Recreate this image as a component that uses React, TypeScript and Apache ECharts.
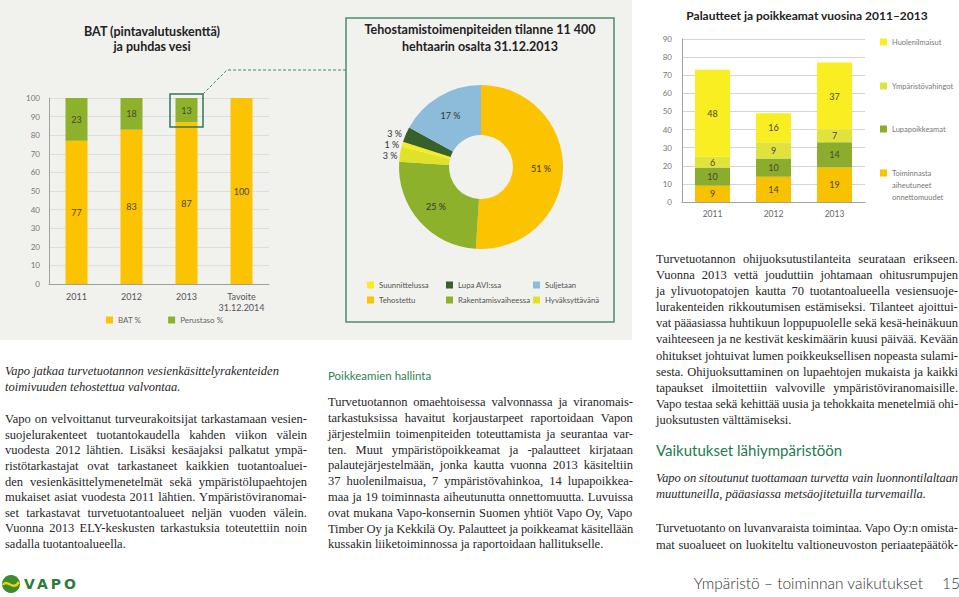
import React, { useEffect, useRef } from "react";
import * as echarts from "echarts";

// ---------- DATA ----------
const batCategories = ["2011", "2012", "2013", "Tavoite\n31.12.2014"];
const batValues = [77, 83, 87, 100];
const perustasoValues: (number | null)[] = [23, 18, 13, null];

const pieNames = ["Tehostettu", "Rakentamisvaiheessa", "Hyväksyttävänä", "Suunnittelussa", "Lupa AVI:ssa", "Suljetaan"];
const pieValues = [51, 25, 3, 1, 3, 17];
const pieColors = ["#fbc300", "#8db12b", "#dfe229", "#f7ec22", "#37602b", "#8dbcdb"];

const fbYears = ["2011", "2012", "2013"];
const accidents = [9, 14, 19];
const permitDeviations = [10, 10, 14];
const envDamages = [6, 9, 7];
const concerns = [48, 16, 37];

const leftItalic = [
  "Vapo jatkaa turvetuotannon vesienkäsittelyrakenteiden",
  "toimivuuden tehostettua valvontaa.",
];
const leftBody = [
  "Vapo on velvoittanut turveurakoitsijat tarkastamaan vesien-",
  "suojelurakenteet tuotantokaudella kahden viikon välein",
  "vuodesta 2012 lähtien. Lisäksi kesäajaksi palkatut ympä-",
  "ristötarkastajat ovat tarkastaneet kaikkien tuotantoaluei-",
  "den vesienkäsittelymenetelmät sekä ympäristölupaehtojen",
  "mukaiset asiat vuodesta 2011 lähtien. Ympäristöviranomai-",
  "set tarkastavat turvetuotantoalueet neljän vuoden välein.",
  "Vuonna 2013 ELY-keskusten tarkastuksia toteutettiin noin",
  "sadalla tuotantoalueella.",
];
const midBody = [
  "Turvetuotannon omaehtoisessa valvonnassa ja viranomais-",
  "tarkastuksissa havaitut korjaustarpeet raportoidaan Vapon",
  "järjestelmiin toimenpiteiden toteuttamista ja seurantaa var-",
  "ten. Muut ympäristöpoikkeamat ja -palautteet kirjataan",
  "palautejärjestelmään, jonka kautta vuonna 2013 käsiteltiin",
  "37 huolenilmaisua, 7 ympäristövahinkoa, 14 lupapoikkea-",
  "maa ja 19 toiminnasta aiheutunutta onnettomuutta. Luvuissa",
  "ovat mukana Vapo-konsernin Suomen yhtiöt Vapo Oy, Vapo",
  "Timber Oy ja Kekkilä Oy. Palautteet ja poikkeamat käsitellään",
  "kussakin liiketoiminnossa ja raportoidaan hallitukselle.",
];
const rightBody = [
  "Turvetuotannon ohijuoksutustilanteita seurataan erikseen.",
  "Vuonna 2013 vettä jouduttiin johtamaan ohitusrumpujen",
  "ja ylivuotopatojen kautta 70 tuotantoalueella vesiensuoje-",
  "lurakenteiden rikkoutumisen estämiseksi. Tilanteet ajoittui-",
  "vat pääasiassa huhtikuun loppupuolelle sekä kesä-heinäkuun",
  "vaihteeseen ja ne kestivät keskimäärin kuusi päivää. Kevään",
  "ohitukset johtuivat lumen poikkeuksellisen nopeasta sulami-",
  "sesta. Ohijuoksuttaminen on lupaehtojen mukaista ja kaikki",
  "tapaukset ilmoitettiin valvoville ympäristöviranomaisille.",
  "Vapo testaa sekä kehittää uusia ja tehokkaita menetelmiä ohi-",
  "juoksutusten välttämiseksi.",
];
const rightItalic = [
  "Vapo on sitoutunut tuottamaan turvetta vain luonnontilaltaan",
  "muuttuneilla, pääasiassa metsäojitetuilla turvemailla.",
];
const rightBody2 = [
  "Turvetuotanto on luvanvaraista toimintaa. Vapo Oy:n omista-",
  "mat suoalueet on luokiteltu valtioneuvoston periaatepäätök-",
];

// ---------- helpers ----------
const FONT = "Lato";
const SERIF = '"Liberation Serif"';
const BODY_SIZE = 12.5;
let measureCtx: CanvasRenderingContext2D | null = null;
function textWidth(text: string, font: string) {
  if (!measureCtx) measureCtx = document.createElement("canvas").getContext("2d");
  measureCtx!.font = font;
  return measureCtx!.measureText(text).width;
}

function Para(props: { lines: string[]; x: number; y: number; width: number; lh: number; italic?: boolean; justify?: boolean; justifyLast?: boolean }) {
  const { lines, x, y, width, lh, italic, justify = true, justifyLast } = props;
  const font = `${italic ? "italic " : ""}${BODY_SIZE}px ${SERIF}`;
  return (
    <>
      {lines.map((t, i) => {
        const isLast = i === lines.length - 1;
        const doJ = justify && (!isLast || justifyLast);
        const spaces = t.split(" ").length - 1;
        const w = textWidth(t, font);
        let ws = 0;
        let ls = 0;
        if (w > width) {
          ls = (width - w) / t.length;
        } else if (doJ && spaces > 0) {
          ws = (width - w) / spaces;
        }
        return (
          <div
            key={i}
            style={{
              position: "absolute",
              left: x,
              top: y + i * lh - lh / 2,
              height: lh,
              lineHeight: lh + "px",
              whiteSpace: "nowrap",
              font,
              wordSpacing: ws + "px",
              letterSpacing: ls + "px",
              color: "#262626",
            }}
          >
            {t}
          </div>
        );
      })}
    </>
  );
}

export default function App() {
  const ref = useRef<HTMLDivElement>(null);

  useEffect(() => {
    if (!ref.current) return;
    const chart = echarts.init(ref.current, undefined, { renderer: "svg" });
    const labelColor = "#4a4636";
    const legendText = { fontFamily: FONT, fontSize: 7.8, color: "#555" };
    const rLegendText = { fontFamily: FONT, fontSize: 7.5, color: "#777" };
    const legendBase = { icon: "rect", itemWidth: 7, itemHeight: 7, orient: "vertical", selectedMode: false, textStyle: legendText, padding: 0 };

    const option: any = {
      animation: false,
      textStyle: { fontFamily: FONT },
      grid: [
        { left: 49, top: 98, width: 220, height: 186 },
        { left: 682, top: 39, width: 183, height: 163 },
      ],
      xAxis: [
        {
          type: "category", gridIndex: 0, data: batCategories,
          axisLine: { lineStyle: { color: "#a0a0a0" } }, axisTick: { show: false },
          axisLabel: { color: "#555", fontSize: 9, margin: 7, lineHeight: 11, interval: 0 },
        },
        {
          type: "category", gridIndex: 1, data: fbYears,
          axisLine: { lineStyle: { color: "#a0a0a0" } }, axisTick: { show: false },
          axisLabel: { color: "#666", fontSize: 8.5, margin: 7 },
        },
      ],
      yAxis: [
        {
          type: "value", gridIndex: 0, min: 0, max: 100, interval: 10,
          axisLine: { show: true, lineStyle: { color: "#a0a0a0" } }, axisTick: { show: false },
          axisLabel: { color: "#777", fontSize: 8, margin: 9 },
          splitLine: { lineStyle: { color: "#dedede" } },
        },
        {
          type: "value", gridIndex: 1, min: 0, max: 90, interval: 10,
          axisLine: { show: true, lineStyle: { color: "#a0a0a0" } }, axisTick: { show: false },
          axisLabel: { color: "#777", fontSize: 8, margin: 10 },
          splitLine: { lineStyle: { color: "#d4d4d4" } },
        },
      ],
      legend: [
        { ...legendBase, orient: "horizontal", data: ["BAT %", "Perustaso %"], left: 106, top: 316, itemGap: 27, textStyle: { ...legendText, fontSize: 8, color: "#666" } },
        { ...legendBase, data: ["Suunnittelussa", "Tehostettu"], left: 367, top: 281, itemGap: 7 },
        { ...legendBase, data: ["Lupa AVI:ssa", "Rakentamisvaiheessa"], left: 446, top: 281, itemGap: 7 },
        { ...legendBase, data: ["Suljetaan", "Hyväksyttävänä"], left: 533, top: 281, itemGap: 7 },
        { ...legendBase, data: ["Huolenilmaisut"], left: 880, top: 38, textStyle: rLegendText },
        { ...legendBase, data: ["Ympäristövahingot"], left: 880, top: 82, textStyle: rLegendText },
        { ...legendBase, data: ["Lupapoikkeamat"], left: 880, top: 125, textStyle: rLegendText },
        {
          ...legendBase, data: ["Toiminnasta aiheutuneet onnettomuudet"], left: 880, top: 143,
          formatter: (n: string) => "\n\n" + n.split(" ").join("\n"),
          textStyle: { ...rLegendText, lineHeight: 12 },
        },
      ],
      series: [
        {
          name: "BAT %", type: "bar", xAxisIndex: 0, yAxisIndex: 0, stack: "bat", data: batValues, barWidth: 22,
          itemStyle: { color: "#fbc300" }, label: { show: true, position: "inside", fontSize: 9, color: labelColor },
        },
        {
          name: "Perustaso %", type: "bar", xAxisIndex: 0, yAxisIndex: 0, stack: "bat", data: perustasoValues, barWidth: 22,
          itemStyle: { color: "#8db12b" }, label: { show: true, position: "inside", fontSize: 9, color: labelColor },
        },
        {
          name: "Tehostamistoimenpiteet", type: "pie", center: [481, 167], radius: [32, 82], startAngle: 90, clockwise: true,
          avoidLabelOverlap: true,
          label: { show: true, position: "inside", formatter: "{c} %", fontSize: 9, color: "#333", distanceToLabelLine: 2 },
          labelLine: { show: false, length: 2, length2: 0 },
          emphasis: { disabled: true },
          data: pieNames.map((n, i) => ({
            name: n, value: pieValues[i], itemStyle: { color: pieColors[i] },
            ...(pieValues[i] < 5 ? { label: { position: "outside" } } : {}),
          })),
        },
        {
          name: "Toiminnasta aiheutuneet onnettomuudet", type: "bar", xAxisIndex: 1, yAxisIndex: 1, stack: "fb", data: accidents, barWidth: 35,
          itemStyle: { color: "#f8c200" }, label: { show: true, position: "inside", fontSize: 9, color: labelColor },
        },
        {
          name: "Lupapoikkeamat", type: "bar", xAxisIndex: 1, yAxisIndex: 1, stack: "fb", data: permitDeviations, barWidth: 35,
          itemStyle: { color: "#8bac2d" }, label: { show: true, position: "inside", fontSize: 9, color: labelColor },
        },
        {
          name: "Ympäristövahingot", type: "bar", xAxisIndex: 1, yAxisIndex: 1, stack: "fb", data: envDamages, barWidth: 35,
          itemStyle: { color: "#e0e33c" }, label: { show: true, position: "inside", fontSize: 9, color: labelColor },
        },
        {
          name: "Huolenilmaisut", type: "bar", xAxisIndex: 1, yAxisIndex: 1, stack: "fb", data: concerns, barWidth: 35,
          itemStyle: { color: "#f8ee22" }, label: { show: true, position: "inside", fontSize: 9, color: labelColor },
        },
      ],
      graphic: [
        { type: "rect", z: -10, shape: { x: 0, y: 0, width: 632, height: 340 }, style: { fill: "#f1f1ee" } },
        { type: "rect", z: 1, shape: { x: 346, y: 18, width: 268, height: 304 }, style: { fill: "none", stroke: "#4f8c6c", lineWidth: 1.5 } },
        { type: "rect", z: 10, shape: { x: 170, y: 94, width: 33, height: 33 }, style: { fill: "none", stroke: "#2e7a5c", lineWidth: 1.5 } },
        { type: "polyline", z: 10, shape: { points: [[203, 94], [227, 70], [346, 70]] }, style: { stroke: "#3f8c6a", lineWidth: 1, lineDash: [3, 2], fill: "none" } },
        { type: "text", z: 10, x: 152, y: 39, style: { text: "BAT (pintavalutuskenttä)\nja puhdas vesi", align: "center", verticalAlign: "middle", fontFamily: FONT, fontWeight: "bold", fontSize: 12.5, lineHeight: 15, fill: "#222" } },
        { type: "text", z: 10, x: 480, y: 38, style: { text: "Tehostamistoimenpiteiden tilanne 11 400\nhehtaarin osalta 31.12.2013", align: "center", verticalAlign: "middle", fontFamily: FONT, fontWeight: "bold", fontSize: 12.5, lineHeight: 17, fill: "#222" } },
        { type: "text", z: 10, x: 807, y: 15, style: { text: "Palautteet ja poikkeamat vuosina 2011–2013", align: "center", verticalAlign: "middle", fontFamily: FONT, fontWeight: "bold", fontSize: 12, fill: "#222" } },
        { type: "circle", z: 10, shape: { cx: 11, cy: 584, r: 9 }, style: { fill: "#3d8b2f" } },
        { type: "bezierCurve", z: 11, shape: { x1: 3, y1: 585, cpx1: 7, cpy1: 578, cpx2: 13, cpy2: 592, x2: 19, y2: 582 }, style: { stroke: "#f2d400", lineWidth: 2.5, fill: "none" } },
      ],
    };
    chart.setOption(option);
    return () => chart.dispose();
  }, []);

  return (
    <div style={{ position: "absolute", left: 0, top: 0, width: 959, height: 597, overflow: "hidden", background: "#fff" }}>
      <div ref={ref} style={{ position: "absolute", left: 0, top: 0, width: 959, height: 597 }} />
      <Para lines={leftItalic} x={5} y={372} width={302} lh={16} italic justify={false} />
      <Para lines={leftBody} x={5} y={420} width={302} lh={15.6} />
      <div style={{ position: "absolute", left: 328, top: 369, font: `11.5px ${FONT}`, color: "#2f7f55", whiteSpace: "nowrap" }}>Poikkeamien hallinta</div>
      <Para lines={midBody} x={328} y={403} width={305} lh={15.8} />
      <Para lines={rightBody} x={656} y={260} width={302} lh={16.1} />
      <div style={{ position: "absolute", left: 656, top: 441, font: `15px ${FONT}`, color: "#1f7a52", whiteSpace: "nowrap" }}>Vaikutukset lähiympäristöön</div>
      <Para lines={rightItalic} x={656} y={479} width={302} lh={16.5} italic />
      <Para lines={rightBody2} x={656} y={529} width={302} lh={17} justifyLast />
      <div style={{ position: "absolute", left: 24, top: 576, font: `bold 14px "DejaVu Sans"`, letterSpacing: "3px", color: "#2d7b36" }}>VAPO</div>
      <div style={{ position: "absolute", right: 36, top: 574, font: `300 15.5px ${FONT}`, color: "#333", whiteSpace: "nowrap" }}>Ympäristö – toiminnan vaikutukset</div>
      <div style={{ position: "absolute", left: 942, top: 574, font: `300 15.5px ${FONT}`, color: "#333" }}>15</div>
    </div>
  );
}
